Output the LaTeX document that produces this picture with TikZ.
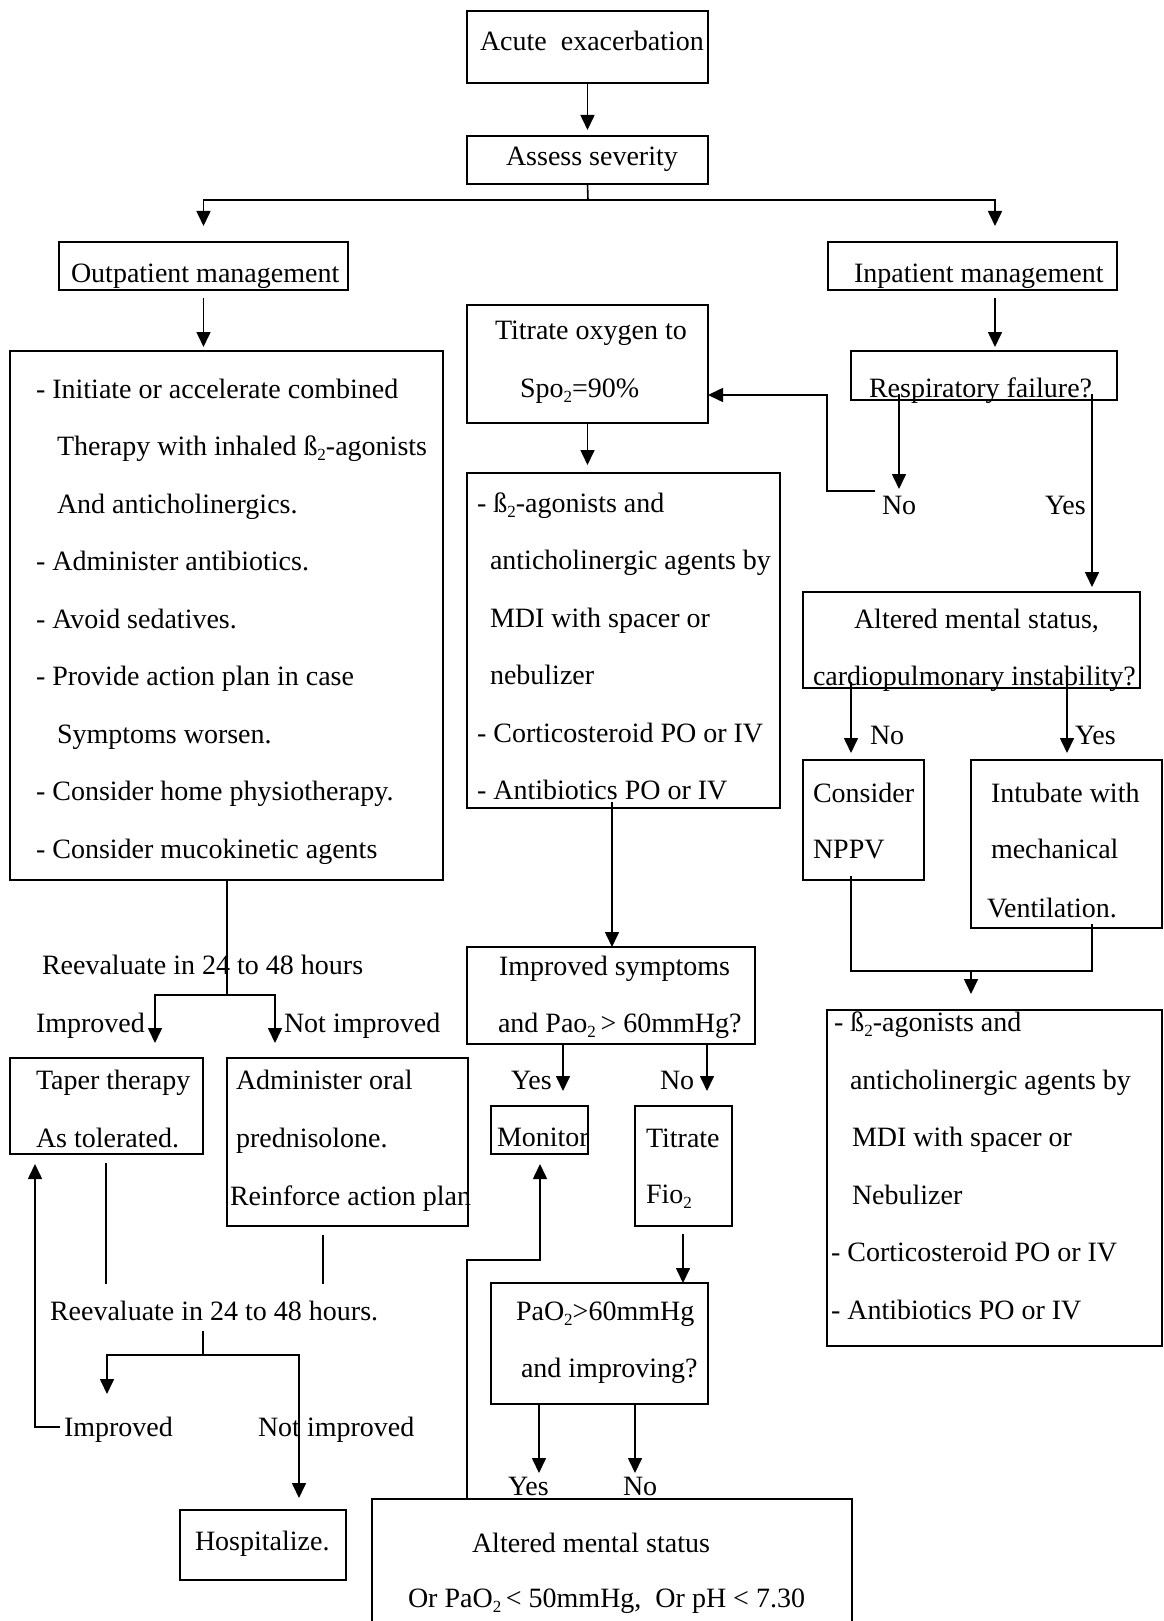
\documentclass[tikz,border=0pt]{standalone}
\usepackage{fontspec}
\setmainfont{Liberation Serif}
\usetikzlibrary{arrows.meta}
\newcommand\sbt[1]{\raisebox{-5pt}{\fontsize{17}{17}\selectfont #1}}
\newcommand\fbx[5]{\node[box,anchor=north west,minimum width={(#4)-(#2)},minimum height={(#5)-(#3)}] (#1) at (#2,#3) {};}
\newcommand\lin[4]{\node[txt,anchor=base west] (#1) at (#2,#3) {#4};}
\begin{document}
\begin{tikzpicture}[x=1pt,y=-1pt,
 box/.style={draw,line width=1.6pt,inner sep=0pt,outer sep=0pt},
 txt/.style={inner sep=0pt,outer sep=0pt,font=\fontsize{28}{34}\selectfont},
 ln/.style={line width=1.6pt},
 arr/.style={line width=1.6pt,-{Triangle[width=14pt,length=15pt]}}]
\useasboundingbox[fill=white] (0,0) rectangle (1163,1621);

% ---------- boxes ----------
\fbx{acute}{467}{11}{708}{83}
\fbx{assess}{467}{136}{708}{184}
\fbx{outp}{59}{242}{348}{290}
\fbx{inp}{828}{242}{1117}{290}
\fbx{leftbox}{10}{351}{443}{880}
\fbx{titrate}{467}{305}{708}{423}
\fbx{resp}{851}{351}{1117}{400}
\fbx{midbox}{467}{473}{780}{808}
\fbx{altR}{803}{592}{1140}{688}
\fbx{nppv}{803}{760}{924}{880}
\fbx{intub}{971}{760}{1162}{928}
\fbx{rightbox}{827}{1010}{1162}{1346}
\fbx{impsym}{467}{947}{755}{1044}
\fbx{monitor}{491}{1106}{588}{1154}
\fbx{titfio}{635}{1106}{732}{1226}
\fbx{pao}{491}{1283}{708}{1404}
\fbx{altB}{372}{1499}{852}{1640}
\fbx{taper}{10}{1058}{203}{1154}
\fbx{admin}{227}{1058}{468}{1226}
\fbx{hosp}{180}{1510}{346}{1580}

% ---------- texts ----------
\lin{tAcute}{480}{51}{Acute\ \ exacerbation}
\lin{tAssess}{506}{166}{Assess severity}
\lin{tOut}{71}{283}{Outpatient management}
\lin{tInp}{854}{283}{Inpatient management}
\lin{tTit1}{495}{339}{Titrate oxygen to}
\lin{tTit2}{520}{397}{Spo\sbt{2}=90\%}
\lin{tResp}{869}{397}{Respiratory failure?}

\lin{tL1}{36}{398}{- Initiate or accelerate combined}
\lin{tL2}{57}{455.5}{Therapy with inhaled ß\sbt{2}-agonists}
\lin{tL3}{57}{513}{And anticholinergics.}
\lin{tL4}{36}{570.5}{- Administer antibiotics.}
\lin{tL5}{36}{628}{- Avoid sedatives.}
\lin{tL6}{36}{685.5}{- Provide action plan in case}
\lin{tL7}{57}{743}{Symptoms worsen.}
\lin{tL8}{36}{800.5}{- Consider home physiotherapy.}
\lin{tL9}{36}{858}{- Consider mucokinetic agents}

\lin{tM1}{477}{512}{- ß\sbt{2}-agonists and}
\lin{tM2}{490}{569.5}{anticholinergic agents by}
\lin{tM3}{490}{627}{MDI with spacer or}
\lin{tM4}{490}{684.5}{nebulizer}
\lin{tM5}{477}{742}{- Corticosteroid PO or IV}
\lin{tM6}{477}{799.5}{- Antibiotics PO or IV}

\lin{tNo1}{882}{514}{No}
\lin{tYes1}{1045}{514}{Yes}
\lin{tAR1}{854}{628}{Altered mental status,}
\lin{tAR2}{813}{685}{cardiopulmonary instability?}
\lin{tNo2}{870}{744}{No}
\lin{tYes2}{1075}{744}{Yes}
\lin{tNP1}{813}{802}{Consider}
\lin{tNP2}{813}{858}{NPPV}
\lin{tIn1}{991}{802}{Intubate with}
\lin{tIn2}{991}{858}{mechanical}
\lin{tIn3}{987}{917}{Ventilation.}

\lin{tR1}{834}{1031}{- ß\sbt{2}-agonists and}
\lin{tR2}{850}{1089}{anticholinergic agents by}
\lin{tR3}{852}{1146}{MDI with spacer or}
\lin{tR4}{852}{1204}{Nebulizer}
\lin{tR5}{831}{1261}{- Corticosteroid PO or IV}
\lin{tR6}{831}{1319}{- Antibiotics PO or IV}

\lin{tRe1}{42}{974}{Reevaluate in 24 to 48 hours}
\lin{tImp1}{36}{1032}{Improved}
\lin{tNI1}{284}{1032}{Not improved}
\lin{tTp1}{36}{1089}{Taper therapy}
\lin{tTp2}{36}{1147}{As tolerated.}
\lin{tAd1}{236}{1089}{Administer oral}
\lin{tAd2}{236}{1147}{prednisolone.}
\lin{tAd3}{230}{1205}{Reinforce action plan}
\lin{tRe2}{50}{1320}{Reevaluate in 24 to 48 hours.}
\lin{tImp2}{64}{1436}{Improved}
\lin{tNI2}{258}{1436}{Not improved}
\lin{tHosp}{195}{1550}{Hospitalize.}

\lin{tIS1}{499}{975}{Improved symptoms}
\lin{tIS2}{498}{1032}{and Pao\sbt{2}\,> 60mmHg?}
\lin{tYes3}{511}{1089}{Yes}
\lin{tNo3}{660}{1089}{No}
\lin{tMon}{497}{1146}{Monitor}
\lin{tTF1}{646}{1147}{Titrate}
\lin{tTF2}{646}{1203}{Fio\sbt{2}}
\lin{tPa1}{516}{1320}{PaO\sbt{2}>60mmHg}
\lin{tPa2}{521}{1377}{and improving?}
\lin{tYes4}{508}{1495}{Yes}
\lin{tNo4}{623}{1495}{No}
\lin{tAB1}{472}{1552}{Altered mental status}
\lin{tAB2}{408}{1607}{Or PaO\sbt{2}\,< 50mmHg,\ \ Or pH < 7.30}

% ---------- coordinates ----------
\coordinate (sp) at (588,200);
\coordinate (inpIn) at (995,242);
\coordinate (inpOut) at (995,290);
\coordinate (rA) at (899,394);
\coordinate (noTip) at (899,489);
\coordinate (noL) at (875,491);
\coordinate (bend) at (827,395);
\coordinate (tIn) at (708,395);
\coordinate (rY) at (1092,394);
\coordinate (aN) at (851,682);
\coordinate (aY) at (1067,682);
\coordinate (nB) at (851,876);
\coordinate (iB) at (1092,924);
\coordinate (mg) at (971,971);
\coordinate (lB) at (227,880);
\coordinate (lS) at (227,995);
\coordinate (tpIn) at (155,1058);
\coordinate (adIn) at (275,1058);
\coordinate (tl1) at (106,1163);
\coordinate (tl2) at (106,1284);
\coordinate (al1) at (323,1235);
\coordinate (al2) at (323,1284);
\coordinate (r2) at (203,1331);
\coordinate (r2s) at (203,1355);
\coordinate (imp2Tip) at (107,1394);
\coordinate (hospIn) at (299,1498);
\coordinate (i2L) at (60,1427);
\coordinate (tpB) at (35,1164);
\coordinate (mB) at (612,802);
\coordinate (isY) at (563,1044);
\coordinate (isYt) at (563,1091);
\coordinate (isN) at (707,1044);
\coordinate (isNt) at (707,1091);
\coordinate (aB) at (467,1499);
\coordinate (aB2) at (467,1260);
\coordinate (mI) at (540,1164);
\coordinate (tfB) at (683,1234);
\coordinate (pY) at (539,1404);
\coordinate (pYt) at (539,1473);
\coordinate (pN) at (635,1404);
\coordinate (pNt) at (635,1473);

% ---------- connectors ----------
\draw[arr,shorten >=6pt] (acute) -- (assess);
\draw[ln] (assess.south) -- (sp);
\draw[arr,shorten >=16pt] (sp) -| (outp.north);
\draw[arr,shorten >=16pt] (sp) -| (inpIn);
\draw[arr,shorten <=8pt,shorten >=4pt] (outp.south) -- (outp.south |- leftbox.north);
\draw[arr,shorten <=8pt,shorten >=4pt] (inpOut) -- (inpOut |- resp.north);
\draw[arr,shorten >=8pt] (titrate.south) -- (titrate.south |- midbox.north);
\draw[arr] (rA) -- (noTip);
\draw[arr] (noL) -| (bend) -- (tIn);
\draw[arr,shorten >=5pt] (rY) -- (rY |- altR.north);
\draw[arr,shorten >=7pt] (aN) -- (aN |- nppv.north);
\draw[arr,shorten >=7pt] (aY) -- (aY |- intub.north);
\draw[ln] (nB) |- (mg) -| (iB);
\draw[arr,shorten >=16pt] (mg) -- (mg |- rightbox.north);
\draw[ln] (lB) -- (lS);
\draw[arr,shorten >=15pt] (lS) -| (tpIn);
\draw[arr,shorten >=15pt] (lS) -| (adIn);
\draw[ln] (tl1) -- (tl2);
\draw[ln] (al1) -- (al2);
\draw[ln] (r2) -- (r2s);
\draw[arr] (r2s) -| (imp2Tip);
\draw[arr] (r2s) -| (hospIn);
\draw[arr] (i2L) -| (tpB);
\draw[arr] (mB) -- (mB |- impsym.north);
\draw[arr] (isY) -- (isYt);
\draw[arr] (isN) -- (isNt);
\draw[arr] (aB) -- (aB2) -| (mI);
\draw[arr] (tfB) -- (tfB |- pao.north);
\draw[arr] (pY) -- (pYt);
\draw[arr] (pN) -- (pNt);
\end{tikzpicture}
\end{document}
